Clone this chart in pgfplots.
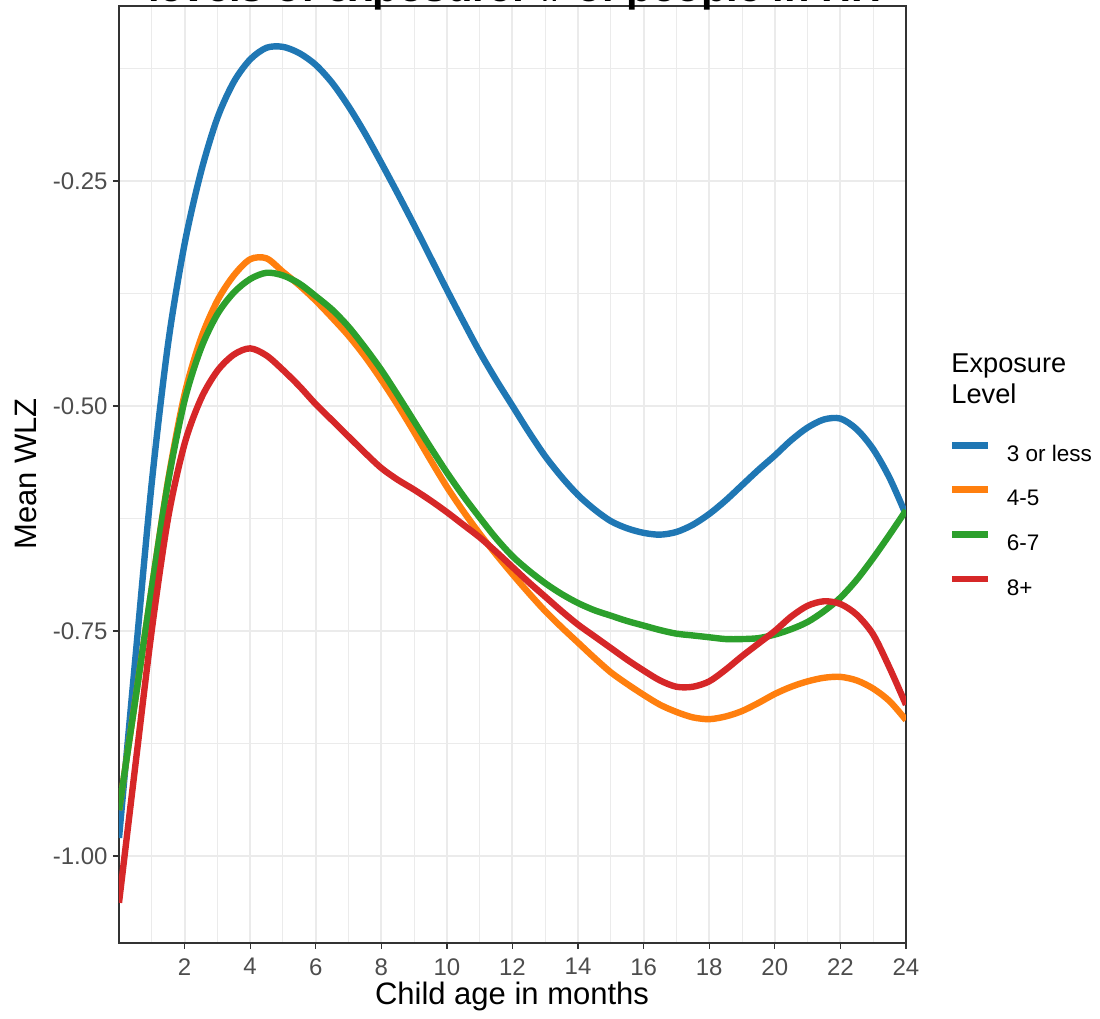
\documentclass[border=0pt]{standalone}
\usepackage{fontspec}
\setmainfont{Liberation Sans}
\usepackage{pgfplots}
\pgfplotsset{compat=1.18}
\definecolor{cblue}{HTML}{1F77B4}
\definecolor{corange}{HTML}{FF7F0E}
\definecolor{cgreen}{HTML}{2CA02C}
\definecolor{cred}{HTML}{D62728}
\definecolor{gridc}{HTML}{EBEBEB}
\definecolor{tickc}{HTML}{4D4D4D}
\definecolor{borderc}{HTML}{333333}
\begin{document}
\begin{tikzpicture}
\useasboundingbox (0,0) rectangle (550pt,509.5pt);
\clip (0,0) rectangle (550pt,509.5pt);
\begin{axis}[
  at={(59.5pt,38pt)}, anchor=south west,
  scale only axis, width=393.5pt, height=468.5pt,
  xmin=0, xmax=24, ymin=-1.0967, ymax=-0.0556,
  xtick={2,4,...,24},
  ytick={-1,-0.75,-0.5,-0.25},
  yticklabels={-1.00,-0.75,-0.50,-0.25},
  minor xtick={1,3,...,23},
  minor ytick={-1.125,-0.875,-0.625,-0.375,-0.125},
  grid=both,
  major grid style={gridc, line width=1pt},
  minor grid style={gridc, line width=0.5pt},
  axis line style={borderc, line width=0.6pt},
  tick align=outside, tick pos=left,
  major tick length=3pt, minor tick length=0pt,
  tick style={borderc, line width=0.6pt},
  ticklabel style={font=\fontsize{12}{14}\selectfont, color=tickc, inner sep=0pt},
  xticklabel style={anchor=north, yshift=-4.5pt},
  yticklabel style={anchor=east, xshift=-2.5pt},
  /pgf/number format/assume math mode=true,
  legend style={at={(1.0546,0.5349)}, anchor=north west, draw=none, fill=none,
    inner sep=0pt, outer sep=0pt, row sep=12.55pt, column sep=7.5pt,
    font=\fontsize{11.25}{13}\selectfont,
    nodes={inner sep=0pt, text height=8.1pt, text depth=0pt}},
  legend cell align=left,
  legend image code/.code={\draw[#1, line width=3.4pt] (0pt,4pt) -- (18pt,4pt);},
  every axis plot/.append style={line width=3.2pt, smooth},
]
\addplot[cblue] coordinates {(0,-0.980) (0.5,-0.780) (1,-0.585) (1.5,-0.430) (2,-0.320) (2.5,-0.240) (3,-0.180) (3.5,-0.140) (4,-0.115) (4.5,-0.102) (5,-0.101) (5.5,-0.108) (6,-0.121) (6.5,-0.141) (7,-0.167) (7.5,-0.197) (8,-0.230) (8.5,-0.264) (9,-0.299) (9.5,-0.335) (10,-0.371) (10.5,-0.406) (11,-0.440) (11.5,-0.471) (12,-0.500) (12.5,-0.529) (13,-0.556) (13.5,-0.579) (14,-0.599) (14.5,-0.615) (15,-0.628) (15.5,-0.636) (16,-0.641) (16.5,-0.643) (17,-0.640) (17.5,-0.632) (18,-0.620) (18.5,-0.605) (19,-0.588) (19.5,-0.571) (20,-0.555) (20.5,-0.538) (21,-0.524) (21.5,-0.515) (22,-0.514) (22.5,-0.526) (23,-0.548) (23.5,-0.580) (24,-0.621)};
\addlegendentry{3 or less}
\addplot[corange] coordinates {(0,-0.949) (0.5,-0.826) (1,-0.702) (1.5,-0.582) (2,-0.487) (2.5,-0.425) (3,-0.383) (3.5,-0.355) (4,-0.337) (4.5,-0.336) (5,-0.351) (5.5,-0.366) (6,-0.383) (6.5,-0.402) (7,-0.422) (7.5,-0.445) (8,-0.471) (8.5,-0.499) (9,-0.529) (9.5,-0.560) (10,-0.590) (10.5,-0.617) (11,-0.642) (11.5,-0.665) (12,-0.687) (12.5,-0.708) (13,-0.728) (13.5,-0.746) (14,-0.763) (14.5,-0.780) (15,-0.796) (15.5,-0.809) (16,-0.821) (16.5,-0.832) (17,-0.840) (17.5,-0.846) (18,-0.848) (18.5,-0.845) (19,-0.839) (19.5,-0.830) (20,-0.820) (20.5,-0.812) (21,-0.806) (21.5,-0.802) (22,-0.801) (22.5,-0.805) (23,-0.814) (23.5,-0.828) (24,-0.849)};
\addlegendentry{4-5}
\addplot[cgreen] coordinates {(0,-0.949) (0.5,-0.826) (1,-0.702) (1.5,-0.584) (2,-0.494) (2.5,-0.436) (3,-0.398) (3.5,-0.374) (4,-0.359) (4.5,-0.352) (5,-0.355) (5.5,-0.364) (6,-0.378) (6.5,-0.393) (7,-0.412) (7.5,-0.435) (8,-0.460) (8.5,-0.488) (9,-0.517) (9.5,-0.546) (10,-0.574) (10.5,-0.600) (11,-0.624) (11.5,-0.647) (12,-0.667) (12.5,-0.683) (13,-0.697) (13.5,-0.709) (14,-0.719) (14.5,-0.727) (15,-0.733) (15.5,-0.739) (16,-0.744) (16.5,-0.749) (17,-0.753) (17.5,-0.755) (18,-0.757) (18.5,-0.759) (19,-0.759) (19.5,-0.758) (20,-0.754) (20.5,-0.748) (21,-0.740) (21.5,-0.728) (22,-0.713) (22.5,-0.693) (23,-0.669) (23.5,-0.643) (24,-0.616)};
\addlegendentry{6-7}
\addplot[cred] coordinates {(0,-1.052) (0.5,-0.899) (1,-0.749) (1.5,-0.624) (2,-0.542) (2.5,-0.492) (3,-0.461) (3.5,-0.443) (4,-0.436) (4.5,-0.444) (5,-0.460) (5.5,-0.478) (6,-0.498) (6.5,-0.516) (7,-0.534) (7.5,-0.552) (8,-0.569) (8.5,-0.582) (9,-0.593) (9.5,-0.605) (10,-0.618) (10.5,-0.632) (11,-0.646) (11.5,-0.662) (12,-0.679) (12.5,-0.696) (13,-0.712) (13.5,-0.728) (14,-0.743) (14.5,-0.756) (15,-0.769) (15.5,-0.782) (16,-0.794) (16.5,-0.805) (17,-0.812) (17.5,-0.812) (18,-0.806) (18.5,-0.793) (19,-0.778) (19.5,-0.764) (20,-0.750) (20.5,-0.734) (21,-0.722) (21.5,-0.717) (22,-0.720) (22.5,-0.732) (23,-0.754) (23.5,-0.791) (24,-0.832)};
\addlegendentry{8+}
\end{axis}
\node[anchor=base, font=\bfseries\fontsize{20.85}{24}\selectfont] at (257.5pt,508.5pt) {levels of exposure: \# of people in HH};
\node[anchor=base, font=\fontsize{15.5}{18}\selectfont] at (256pt,7pt) {Child age in months};
\node[rotate=90, anchor=center, font=\fontsize{15.5}{18}\selectfont] at (13pt,272.5pt) {Mean WLZ};
\node[anchor=base west, inner sep=0pt, font=\fontsize{13.6}{16}\selectfont] at (475.5pt,323pt) {Exposure};
\node[anchor=base west, inner sep=0pt, font=\fontsize{13.6}{16}\selectfont] at (475.5pt,307.5pt) {Level};
\end{tikzpicture}
\end{document}
